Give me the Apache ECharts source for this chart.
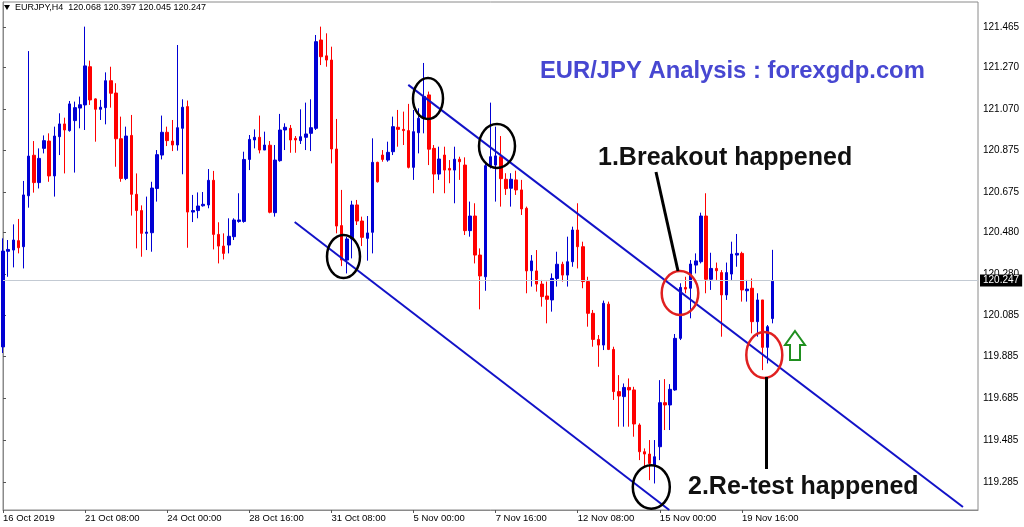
<!DOCTYPE html>
<html><head><meta charset="utf-8">
<script src="https://cdn.jsdelivr.net/npm/echarts@6/dist/echarts.min.js"></script>
<style>html,body{margin:0;padding:0;background:#fff}#c{width:1024px;height:527px}</style>
</head><body><div id="c"></div>
<script>
// ---- data (EURJPY H4) ----
const open=[119.932,120.390,120.396,120.441,120.412,120.656,120.850,120.719,120.883,120.918,
120.751,120.939,121.000,120.968,121.016,121.076,121.091,121.274,121.120,121.070,
121.078,121.207,121.148,120.929,120.739,120.945,120.663,120.585,120.476,120.479,
120.691,120.851,120.960,120.918,120.899,120.979,121.083,120.578,120.585,120.608,
120.612,120.730,120.471,120.415,120.420,120.460,120.533,120.533,120.830,120.923,
120.936,120.875,120.898,120.575,120.824,120.971,120.979,120.931,120.920,120.936,
120.955,120.979,121.402,121.326,121.306,120.880,120.513,120.348,120.449,120.612,
120.535,120.452,120.481,120.816,120.851,120.827,120.867,120.984,120.974,120.968,
120.792,120.958,121.027,121.139,120.883,120.760,120.851,120.787,120.779,120.831,
120.803,120.489,120.559,120.372,120.268,120.800,120.803,120.843,120.735,120.692,
120.732,120.684,120.596,120.297,120.296,120.233,120.176,120.157,120.260,120.328,
120.276,120.340,120.492,120.412,120.245,120.093,119.968,119.941,120.137,119.920,
119.718,119.694,119.738,119.726,119.558,119.430,119.419,119.366,119.454,119.665,
119.654,119.726,119.973,120.217,120.213,120.324,120.340,120.559,120.256,120.308,
120.288,120.181,120.281,120.372,120.380,120.201,120.213,120.053,120.157,119.930,
120.068];
const close=[120.391,120.399,120.444,120.407,120.660,120.846,120.719,120.835,120.920,120.751,
120.942,121.000,120.971,121.096,121.078,121.092,121.278,121.115,121.070,121.080,
121.207,121.147,120.929,120.739,120.942,120.663,120.585,120.476,120.482,120.693,
120.853,120.960,120.920,120.899,120.982,121.080,120.578,120.585,120.607,120.615,
120.730,120.471,120.415,120.380,120.462,120.540,120.540,120.830,120.926,120.936,
120.875,120.899,120.577,120.827,120.971,120.984,120.923,120.923,120.939,120.952,
120.982,121.394,121.322,121.306,120.880,120.511,120.348,120.449,120.612,120.535,
120.457,120.478,120.816,120.723,120.830,120.864,120.987,120.974,120.968,120.792,
120.963,121.027,121.131,120.879,120.760,120.832,120.779,120.779,120.831,120.819,
120.489,120.559,120.372,120.272,120.800,120.843,120.847,120.738,120.690,120.735,
120.684,120.593,120.296,120.344,120.233,120.173,120.160,120.260,120.328,120.276,
120.340,120.492,120.412,120.245,120.093,119.968,119.941,120.141,119.920,119.718,
119.697,119.738,119.726,119.563,119.430,119.419,119.374,119.406,119.665,119.654,
119.729,119.973,120.217,120.209,120.329,120.344,120.559,120.256,120.308,120.297,
120.181,120.288,120.377,120.380,120.205,120.209,120.053,120.157,119.930,120.029,
120.247];
const low=[119.903,120.268,120.313,120.380,120.308,120.599,120.671,120.691,120.859,120.723,
120.652,120.851,120.763,120.963,120.767,120.979,120.971,121.091,120.915,121.019,
120.998,121.078,120.795,120.723,120.731,120.561,120.404,120.364,120.396,120.388,
120.628,120.830,120.894,120.870,120.872,120.759,120.407,120.530,120.548,120.604,
120.596,120.399,120.332,120.351,120.380,120.444,120.527,120.527,120.779,120.883,
120.859,120.875,120.572,120.556,120.819,120.875,120.862,120.862,120.904,120.875,
120.870,120.971,121.282,121.274,120.811,120.476,120.319,120.284,120.356,120.516,
120.415,120.345,120.380,120.719,120.819,120.819,120.851,120.891,120.899,120.787,
120.732,120.859,120.955,120.803,120.668,120.732,120.668,120.716,120.620,120.732,
120.468,120.460,120.332,120.112,120.201,120.787,120.628,120.604,120.660,120.604,
120.660,120.564,120.189,120.221,120.197,120.125,120.045,120.101,120.221,120.245,
120.221,120.316,120.308,120.213,120.029,119.933,119.837,119.917,119.917,119.678,
119.550,119.550,119.550,119.502,119.390,119.358,119.294,119.278,119.390,119.534,
119.534,119.722,119.965,120.189,120.069,120.284,120.332,120.189,120.205,120.253,
119.981,120.157,120.253,120.316,120.149,120.149,119.997,119.981,119.821,119.853,
120.045];
const high=[120.452,120.444,120.519,120.545,120.727,121.349,120.918,120.883,120.945,120.955,
120.987,121.051,121.030,121.110,121.107,121.131,121.466,121.303,121.123,121.115,
121.247,121.274,121.195,121.035,120.987,121.043,120.763,120.610,120.652,120.723,
120.875,121.040,120.987,121.019,121.378,121.118,121.112,120.660,120.672,120.674,
120.784,120.775,120.529,120.476,120.548,120.548,120.668,120.867,120.947,120.974,
121.040,120.963,120.918,120.899,121.048,121.003,120.995,120.942,121.070,121.102,
121.118,121.426,121.466,121.434,121.370,121.024,120.684,120.460,120.632,120.636,
120.556,120.559,120.931,120.819,120.875,120.915,121.035,121.067,121.059,121.096,
121.067,121.075,121.292,121.155,120.899,120.891,120.891,120.827,120.891,120.843,
120.840,120.628,120.620,120.404,120.811,121.102,120.987,120.942,120.764,120.764,
120.776,120.732,120.604,120.372,120.396,120.253,120.245,120.284,120.388,120.340,
120.460,120.508,120.620,120.436,120.268,120.109,119.989,120.154,120.149,119.933,
119.797,119.757,119.781,119.741,119.566,119.446,119.486,119.486,119.773,119.778,
119.754,119.994,120.237,120.268,120.348,120.380,120.575,120.668,120.383,120.336,
120.300,120.336,120.436,120.473,120.388,120.253,120.260,120.189,120.157,120.037,
120.397];
const xTickLabels=["16 Oct 2019","21 Oct 08:00","24 Oct 00:00","28 Oct 16:00","31 Oct 08:00",
"5 Nov 00:00","7 Nov 16:00","12 Nov 08:00","15 Nov 00:00","19 Nov 16:00"];
const barsPerLabel=16;
const totalSlots=191;
const yTickValues=[121.465,121.270,121.070,120.875,120.675,120.480,120.280,120.085,119.885,119.685,119.485,119.285];
const lastPrice=120.247;
const headerText="EURJPY,H4  120.068 120.397 120.045 120.247";
const upperChannel=[[78.98,121.187],[187.07,119.165]];
const lowerChannel=[[56.84,120.530],[129.84,119.151]];

// ---- build ----
const categories=[];
for(let i=0;i<totalSlots;i++){
  const k=i/barsPerLabel;
  categories.push(Number.isInteger(k)&&k<xTickLabels.length?xTickLabels[k]:'');
}
const candles=open.map((o,i)=>[o,close[i],low[i],high[i]]);
const showIdx=(idx,val)=>val!=='';
const FONT='"Liberation Sans", Arial, sans-serif';
const BLUE='#0000d4', RED='#ff0000', CH='#1212c8';

const chart=echarts.init(document.getElementById('c'),null,{renderer:'canvas'});
chart.setOption({
  animation:false,
  backgroundColor:'#ffffff',
  grid:{left:2,right:46,top:2,bottom:17,show:true,borderColor:'#8a8a8a',borderWidth:1,containLabel:false},
  xAxis:[{
    type:'category',data:categories,boundaryGap:false,
    axisLine:{show:true,lineStyle:{color:'#8a8a8a',width:1}},
    axisTick:{show:true,interval:showIdx,length:3,lineStyle:{color:'#555'}},
    axisLabel:{interval:showIdx,align:'left',margin:3,fontSize:9.5,fontFamily:FONT,color:'#000',hideOverlap:false},
    splitLine:{show:false}
  },{
    type:'value',min:0,max:totalSlots-1,show:false
  }],
  yAxis:{
    type:'value',position:'right',min:119.151,max:121.584,scale:true,
    axisLine:{show:true,lineStyle:{color:'#8a8a8a'}},
    axisTick:{show:true,customValues:yTickValues,length:3,lineStyle:{color:'#555'}},
    axisLabel:{customValues:yTickValues,formatter:v=>v.toFixed(3),margin:5,fontSize:10,fontFamily:FONT,color:'#000'},
    splitLine:{show:false}
  },
  series:[{
    type:'candlestick',xAxisIndex:0,data:candles,barWidth:3,clip:true,
    itemStyle:{color:BLUE,color0:RED,borderColor:BLUE,borderColor0:RED,borderWidth:1},
    markLine:{
      silent:true,symbol:'none',animation:false,
      lineStyle:{color:'#c3cad3',width:1,type:'solid'},
      label:{show:true,position:'end',formatter:lastPrice.toFixed(3),backgroundColor:'#000',color:'#fff',
        fontSize:10,fontFamily:FONT,padding:[1,3,1,3],distance:2},
      data:[{yAxis:lastPrice}]
    }
  },{
    type:'line',xAxisIndex:1,data:upperChannel,symbol:'none',lineStyle:{color:CH,width:2},clip:true,z:5
  },{
    type:'line',xAxisIndex:1,data:lowerChannel,symbol:'none',lineStyle:{color:CH,width:2},clip:true,z:5
  }],
  graphic:[
    {type:'polygon',shape:{points:[[4,5],[10,5],[7,10]]},style:{fill:'#000'}},
    {type:'text',x:15,y:8,style:{text:headerText,font:'9px '+FONT,fill:'#000',verticalAlign:'middle'}},
    {type:'text',x:540,y:71,style:{text:'EUR/JPY Analysis : forexgdp.com',font:'bold 23.8px '+FONT,fill:'#4747d1',verticalAlign:'middle'}},
    {type:'text',x:598,y:158,style:{text:'1.Breakout happened',font:'bold 25px '+FONT,fill:'#111',verticalAlign:'middle'}},
    {type:'text',x:688,y:487,style:{text:'2.Re-test happened',font:'bold 25px '+FONT,fill:'#111',verticalAlign:'middle'}},
    {type:'ellipse',shape:{cx:343.5,cy:256.5,rx:16.5,ry:21.5},style:{fill:'none',stroke:'#000',lineWidth:2.5},z:10},
    {type:'ellipse',shape:{cx:428,cy:98.5,rx:15,ry:20.5},style:{fill:'none',stroke:'#000',lineWidth:2.5},z:10},
    {type:'ellipse',shape:{cx:497,cy:146,rx:18,ry:22},style:{fill:'none',stroke:'#000',lineWidth:2.5},z:10},
    {type:'ellipse',shape:{cx:651.3,cy:487,rx:18.5,ry:21.7},style:{fill:'none',stroke:'#000',lineWidth:2.5},z:10},
    {type:'ellipse',shape:{cx:680,cy:293,rx:18.3,ry:22},style:{fill:'none',stroke:'#e02020',lineWidth:2.5},z:10},
    {type:'ellipse',shape:{cx:764.3,cy:355,rx:18,ry:23},style:{fill:'none',stroke:'#e02020',lineWidth:2.5},z:10},
    {type:'line',shape:{x1:656,y1:172,x2:678,y2:271},style:{stroke:'#000',lineWidth:3},z:10},
    {type:'line',shape:{x1:766.5,y1:377,x2:766.5,y2:469},style:{stroke:'#000',lineWidth:3},z:10},
    {type:'polygon',shape:{points:[[795,331],[805,345],[800,345],[800,360],[790,360],[790,345],[785,345]]},
      style:{fill:'none',stroke:'#1f8f1f',lineWidth:2},z:10}
  ]
});
</script></body></html>
